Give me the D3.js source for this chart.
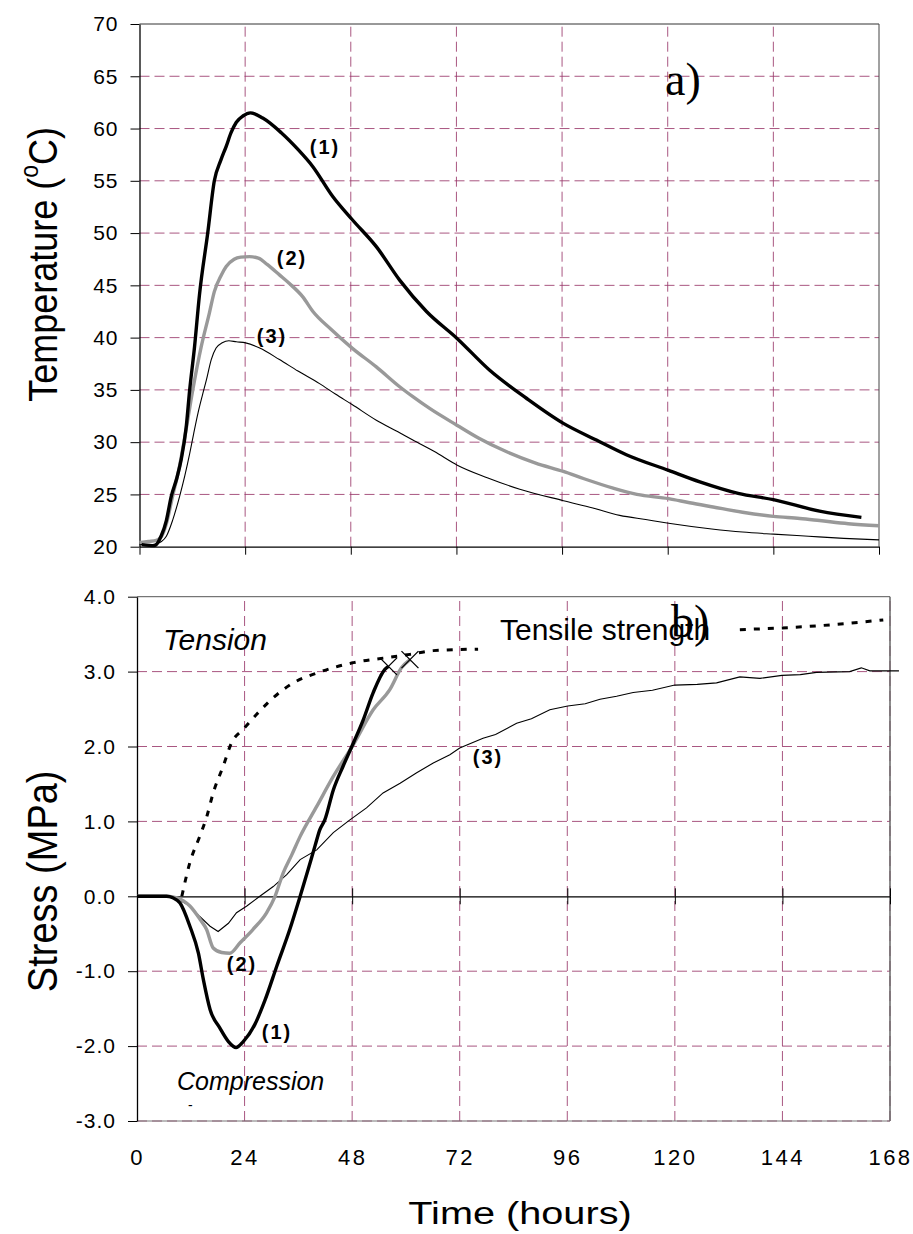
<!DOCTYPE html>
<html><head><meta charset="utf-8">
<script src="https://cdn.jsdelivr.net/npm/d3@7"></script>
<style>body{margin:0;background:#fff} svg{display:block}</style>
</head><body>
<svg id="c" width="913" height="1234"></svg>
<script>
// ---------- data ----------
const xTicks = [0, 24, 48, 72, 96, 120, 144, 168];
const tempTicks = [20, 25, 30, 35, 40, 45, 50, 55, 60, 65, 70];
const stressTicks = [-3, -2, -1, 0, 1, 2, 3, 4];

// a) temperature curves  (hours, °C)
const temp1Time = [0.5,3.4,4.9,6.1,7.2,8.5,9.5,10.6,11.4,12.5,13.6,15.5,17,18.5,19.7,20.8,22,23.5,25.2,28,32.2,36,39.3,43.9,48.3,53.8,59.1,65.2,72.2,79.5,87.9,96.3,103.8,110.6,120.2,127.3,136,144,154.5,164];
const temp1 = [20.2,20.1,21.0,22.5,24.8,26.6,28.4,31.4,35.0,39.1,44.0,50.0,55.0,57.0,58.3,59.6,60.6,61.2,61.5,61.0,59.6,58.0,56.4,53.5,51.3,48.7,45.5,42.5,39.9,36.9,34.2,31.8,30.2,28.8,27.3,26.2,25.1,24.5,23.4,22.8];

const temp2Time = [0,2,3.8,5,6.1,7.5,9,10.5,12.1,14,15.9,17,18.6,19.7,21.5,23,25,27,29,31.8,34,37.1,39.4,43.5,48.3,53.8,59.1,62.1,66,72.2,77,83.3,90,96.3,101,107.6,113,120.2,125,130.3,137,144,150,154.5,161,168];
const temp2 = [20.4,20.5,20.6,21.0,22.2,24.8,27.5,31.0,35.0,39.1,42.4,44.4,46.0,46.8,47.5,47.7,47.75,47.6,47.0,46.0,45.2,43.9,42.5,40.8,39.0,37.2,35.3,34.35,33.2,31.6,30.4,29.1,28.0,27.2,26.5,25.6,25.0,24.6,24.2,23.8,23.3,22.9,22.7,22.5,22.2,22.0];

const temp3Time = [0,3,5,6.1,7.5,9.1,10.3,11.4,12.3,13.3,14.3,15.2,16.3,17.4,18.8,20.3,22,24.1,27.3,31.8,36,40.9,44.5,48.3,53.8,59.1,62.1,67,72.2,79,86.4,96.3,103,109.1,115,120.2,130,137,144,152,160,168];
const temp3 = [20.2,20.2,20.5,21.0,22.5,24.8,26.8,28.9,30.8,32.8,34.5,35.95,37.9,39.0,39.5,39.7,39.6,39.5,39.0,37.9,36.8,35.6,34.6,33.6,32.1,30.9,30.2,29.1,27.8,26.6,25.5,24.4,23.7,23.0,22.6,22.25,21.7,21.4,21.2,21.0,20.8,20.65];

// b) stress curves (hours, MPa)
const strengthTime = [10,11.8,14,15.5,17,19.25,21.1,23.7,26.7,30,34.9,40.1,48.3,54.9,60.9,66.1,76.1,null,134.5,151.6,166.5];
const strength = [0,0.45,0.8,1.05,1.38,1.74,2.05,2.23,2.43,2.63,2.85,2.98,3.12,3.18,3.23,3.28,3.30,null,3.56,3.61,3.69];

const stress1Time = [0,3,6.6,8,9.6,11.8,13.7,14.8,16.3,18.5,20.4,22.1,23.7,26.3,28.6,31.2,34.1,36.4,38.2,39.7,40.8,41.9,43.8,46,48.3,50.5,52.7,55.3,56.1];
const stress1 = [0,0,0,-0.02,-0.09,-0.4,-0.76,-1.11,-1.51,-1.76,-1.94,-2.02,-1.94,-1.71,-1.38,-0.93,-0.44,0,0.36,0.67,0.89,1.02,1.42,1.74,2.05,2.36,2.72,3.03,3.07];

const stress2Time = [0,3,6.6,8.9,11.8,14.1,15.5,17,18.9,20.7,23,25.9,28.9,30.8,32.6,34.5,36.4,40.1,43.8,48.3,52.7,56.4,59,60.9];
const stress2 = [0,0,0,-0.02,-0.13,-0.31,-0.44,-0.69,-0.75,-0.76,-0.62,-0.44,-0.22,0,0.31,0.55,0.8,1.2,1.6,2.03,2.49,2.76,3.05,3.16];

const stress3Time = [0,5,7.4,9.5,11.8,14,16.3,18.1,20.4,22.2,24.5,27.4,30.4,33.4,36.4,40.1,43.8,47.5,51.2,54.9,58.7,62.4,66.1,69.8,72,77.2,80,84.7,88,92.1,96.1,100,103.3,107,110.7,115,120,125,129.3,134.5,139,143.9,148,151.6,159,161.6,163.5,170];
const stress3 = [0,0,0,-0.05,-0.13,-0.27,-0.4,-0.47,-0.36,-0.22,-0.13,0,0.13,0.29,0.49,0.62,0.85,1.02,1.18,1.38,1.51,1.65,1.78,1.89,1.98,2.11,2.16,2.31,2.37,2.49,2.54,2.57,2.63,2.67,2.72,2.75,2.82,2.83,2.85,2.93,2.91,2.95,2.96,2.99,3.0,3.05,3.01,3.01];

// ---------- drawing ----------
const svg = d3.select("#c");
const GRID = "#9b3a6c";
const FONT = "'Liberation Sans', Arial, sans-serif";
const SERIF = "'Liberation Serif', 'Times New Roman', serif";

const xTop = d3.scaleLinear([0, 168], [139.5, 879]);
const yTop = d3.scaleLinear([20, 70], [546.7, 24]);
const xBot = d3.scaleLinear([0, 168], [137, 890]);
const yBot = d3.scaleLinear([-3, 4], [1121, 596.7]);

function zip(ts, vs) { return ts.map((t, i) => ({t, v: vs[i]})); }

function grid(g, xs, ys, xVals, yVals) {
  const [x0, x1] = xs.range(), [y0, y1] = ys.range();
  g.selectAll(".gh").data(yVals).join("line")
    .attr("x1", x0).attr("x2", x1).attr("y1", d => ys(d)).attr("y2", d => ys(d))
    .attr("stroke", GRID).attr("stroke-width", 1).attr("stroke-dasharray", "10,5").attr("opacity", 0.85);
  g.selectAll(".gv").data(xVals).join("line")
    .attr("y1", y0).attr("y2", y1).attr("x1", d => xs(d)).attr("x2", d => xs(d))
    .attr("stroke", GRID).attr("stroke-width", 1).attr("stroke-dasharray", "10,5").attr("opacity", 0.85);
}

// ===== Top panel =====
const gTop = svg.append("g");
grid(gTop, xTop, yTop, [24, 48, 72, 96, 120, 144], [25, 30, 35, 40, 45, 50, 55, 60, 65]);
gTop.append("line").attr("x1", xTop(0)).attr("x2", xTop(168)).attr("y1", yTop(70)).attr("y2", yTop(70)).attr("stroke", "#333");
gTop.append("line").attr("x1", xTop(168)).attr("x2", xTop(168)).attr("y1", yTop(70)).attr("y2", yTop(20)).attr("stroke", "#444");

gTop.append("g").attr("transform", `translate(${xTop(0)},0)`)
  .call(d3.axisLeft(yTop).tickValues(tempTicks).tickSize(9).tickSizeOuter(0).tickPadding(12).tickFormat(d3.format("d")));
gTop.append("g").attr("transform", `translate(0,${yTop(20)})`)
  .call(d3.axisBottom(xTop).tickValues(xTicks).tickSize(8).tickSizeOuter(0).tickFormat(""));

const lineT = d3.line().x(d => xTop(d.t)).y(d => yTop(d.v)).curve(d3.curveMonotoneX);
gTop.append("path").datum(zip(temp3Time, temp3)).attr("d", lineT).attr("fill", "none").attr("stroke", "#000").attr("stroke-width", 1.1);
gTop.append("path").datum(zip(temp2Time, temp2)).attr("d", lineT).attr("fill", "none").attr("stroke", "#999").attr("stroke-width", 3.4);
gTop.append("path").datum(zip(temp1Time, temp1)).attr("d", lineT).attr("fill", "none").attr("stroke", "#000").attr("stroke-width", 3.4);

// ===== Bottom panel =====
const gBot = svg.append("g");
grid(gBot, xBot, yBot, [24, 48, 72, 96, 120, 144, 168], [-3, -2, -1, 1, 2, 3]);
gBot.append("line").attr("x1", xBot(0)).attr("x2", xBot(168)).attr("y1", yBot(4)).attr("y2", yBot(4)).attr("stroke", "#555");
gBot.append("line").attr("x1", xBot(168)).attr("x2", xBot(168)).attr("y1", yBot(4)).attr("y2", yBot(-3)).attr("stroke", "#666").attr("stroke-width", 1.5);
gBot.append("line").attr("x1", xBot(0)).attr("x2", xBot(168)).attr("y1", yBot(-3)).attr("y2", yBot(-3)).attr("stroke", "#777");

gBot.append("g").attr("transform", `translate(${xBot(0)},0)`)
  .call(d3.axisLeft(yBot).tickValues(stressTicks).tickSize(9).tickSizeOuter(0).tickPadding(12).tickFormat(d => d.toFixed(1)));
gBot.append("g").attr("transform", `translate(0,${yBot(0)})`)
  .call(d3.axisBottom(xBot).tickValues(xTicks.slice(1)).tickSize(8).tickSizeOuter(0).tickFormat(""));
gBot.append("g").attr("transform", `translate(0,${yBot(0)})`)
  .call(d3.axisTop(xBot).tickValues(xTicks.slice(1)).tickSize(8).tickSizeOuter(0).tickFormat(""))
  .select(".domain").remove();
const xAxB = gBot.append("g").attr("transform", `translate(0,${yBot(-3)})`)
  .call(d3.axisBottom(xBot).tickValues(xTicks).tickSize(0).tickPadding(28).tickFormat(d3.format("d")));
xAxB.select(".domain").remove();

const lineB = d3.line().defined(d => d.t !== null).x(d => xBot(d.t)).y(d => yBot(d.v)).curve(d3.curveMonotoneX);
const lineBL = d3.line().x(d => xBot(d.t)).y(d => yBot(d.v)).curve(d3.curveLinear);
gBot.append("path").datum(zip(strengthTime, strength)).attr("d", lineB).attr("fill", "none")
  .attr("stroke", "#000").attr("stroke-width", 3).attr("stroke-dasharray", "6,8");
gBot.append("path").datum(zip(stress3Time, stress3)).attr("d", lineBL).attr("fill", "none").attr("stroke", "#000").attr("stroke-width", 1.1);
gBot.append("path").datum(zip(stress2Time, stress2)).attr("d", lineB).attr("fill", "none").attr("stroke", "#999").attr("stroke-width", 3.4);
gBot.append("path").datum(zip(stress1Time, stress1)).attr("d", lineB).attr("fill", "none").attr("stroke", "#000").attr("stroke-width", 3.4);

const ends = [
  {t: stress1Time[stress1Time.length - 1], v: stress1[stress1.length - 1]},
  {t: stress2Time[stress2Time.length - 1], v: stress2[stress2.length - 1]}
];
gBot.selectAll(".mk").data(ends).join("path")
  .attr("d", d3.symbol().type(d3.symbolX).size(190))
  .attr("transform", d => `translate(${xBot(d.t)},${yBot(d.v)})`)
  .attr("fill", "none").attr("stroke", "#000").attr("stroke-width", 1.3);

svg.selectAll(".domain").attr("stroke", "#000").attr("stroke-width", 1.3);
svg.selectAll(".tick line").attr("stroke", "#000");
svg.selectAll(".tick text").attr("font-family", FONT).attr("font-size", 21).attr("letter-spacing", 1).attr("fill", "#000");
xAxB.selectAll(".tick text").attr("font-size", 22).attr("letter-spacing", 2.5);

// ---------- annotations ----------
function txt(x, y, s, opts = {}) {
  return svg.append("text").attr("x", x).attr("y", y).text(s)
    .attr("font-family", opts.family || FONT).attr("font-size", opts.size || 19)
    .attr("font-weight", opts.weight || "normal").attr("font-style", opts.style || "normal")
    .attr("text-anchor", opts.anchor || "start").attr("dominant-baseline", opts.baseline || "auto")
    .attr("letter-spacing", opts.ls || 0).attr("fill", "#000");
}
const lab = {weight: "bold", size: 20, anchor: "middle", baseline: "central", ls: 2};
txt(325, 147, "(1)", lab);
txt(292, 258, "(2)", lab);
txt(272, 336, "(3)", lab);
txt(277, 1032, "(1)", lab);
txt(242, 964, "(2)", lab);
txt(488, 757, "(3)", lab);

txt(665, 95, "a)", {family: SERIF, size: 46});
txt(500, 640, "Tensile strength", {size: 30});
txt(671, 637, "b)", {family: SERIF, size: 46});
txt(163, 650, "Tension", {size: 30, style: "italic"});
txt(177, 1090, "Compression", {size: 25, style: "italic"});
txt(188, 1110, "-", {size: 14});

const t1 = svg.append("text").attr("transform", `translate(42,${yTop(47)}) rotate(-90) scale(1,1.12)`)
  .attr("text-anchor", "middle").attr("dominant-baseline", "central")
  .attr("font-family", FONT).attr("font-size", 36);
t1.append("tspan").text("Temperature (");
t1.append("tspan").text("o").attr("font-size", 23).attr("dy", -12);
t1.append("tspan").text("C)").attr("dy", 12);
svg.append("text").attr("transform", `translate(42,${yBot(0.2)}) rotate(-90) scale(1,1.1)`)
  .attr("text-anchor", "middle").attr("dominant-baseline", "central")
  .attr("font-family", FONT).attr("font-size", 38).text("Stress (MPa)");
svg.append("text").attr("transform", "translate(520,1224) scale(1.28,1)").attr("text-anchor", "middle")
  .attr("font-family", FONT).attr("font-size", 31).text("Time (hours)");
</script>
</body></html>
